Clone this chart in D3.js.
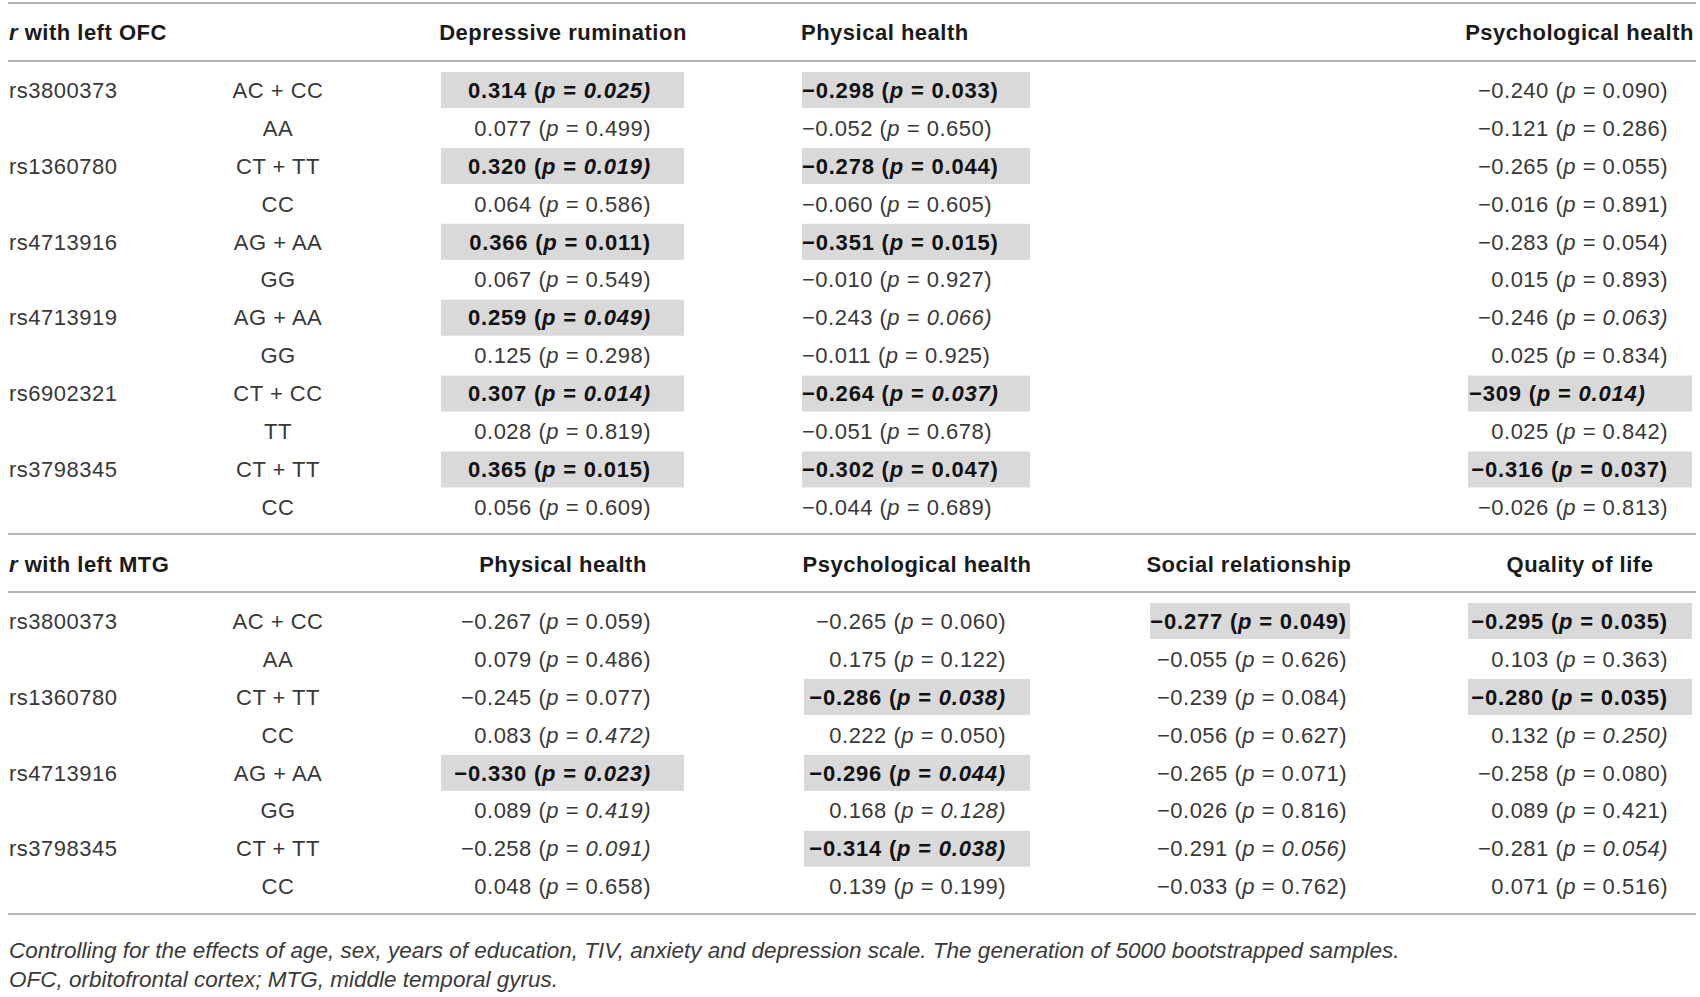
<!DOCTYPE html>
<html>
<head>
<meta charset="utf-8">
<script src="https://cdn.jsdelivr.net/npm/d3@7"></script>
<style>
  body { margin: 0; background: #fff; }
  svg { display: block; }
  text { font-family: "Liberation Sans", Arial, sans-serif; fill: #383838; }
  .hd { font-weight: bold; font-size: 22px; letter-spacing: 0.5px; fill: #1a1a1a; }
  .cell { font-size: 22px; letter-spacing: 0.5px; }
  .sig { font-weight: bold; fill: #111; letter-spacing: 0.8px; }
  .note { font-size: 22.5px; font-style: italic; fill: #3a3a3a; }
</style>
</head>
<body>
<svg width="1700" height="997"></svg>
<script>
// table data
const snpOFC = ['rs3800373', 'rs1360780', 'rs4713916', 'rs4713919', 'rs6902321', 'rs3798345'];
const genoOFC = ['AC + CC', 'AA', 'CT + TT', 'CC', 'AG + AA', 'GG', 'AG + AA', 'GG', 'CT + CC', 'TT', 'CT + TT', 'CC'];
const colsOFC = ['Depressive rumination', 'Physical health', 'Psychological health'];

const rRumination = [0.314, 0.077, 0.320, 0.064, 0.366, 0.067, 0.259, 0.125, 0.307, 0.028, 0.365, 0.056];
const pRumination = [0.025, 0.499, 0.019, 0.586, 0.011, 0.549, 0.049, 0.298, 0.014, 0.819, 0.015, 0.609];
const sigRumination = [1, 0, 1, 0, 1, 0, 1, 0, 1, 0, 1, 0];
const itRumination = [1, 0, 1, 0, 0, 0, 1, 0, 1, 0, 0, 0];

const rPhysOFC = [-0.298, -0.052, -0.278, -0.060, -0.351, -0.010, -0.243, -0.011, -0.264, -0.051, -0.302, -0.044];
const pPhysOFC = [0.033, 0.650, 0.044, 0.605, 0.015, 0.927, 0.066, 0.925, 0.037, 0.678, 0.047, 0.689];
const sigPhysOFC = [1, 0, 1, 0, 1, 0, 0, 0, 1, 0, 1, 0];
const itPhysOFC = [0, 0, 0, 0, 0, 0, 1, 0, 1, 0, 0, 0];

const rPsychOFC = [-0.240, -0.121, -0.265, -0.016, -0.283, 0.015, -0.246, 0.025, -309, 0.025, -0.316, -0.026];
const pPsychOFC = [0.090, 0.286, 0.055, 0.891, 0.054, 0.893, 0.063, 0.834, 0.014, 0.842, 0.037, 0.813];
const sigPsychOFC = [0, 0, 0, 0, 0, 0, 0, 0, 1, 0, 1, 0];
const itPsychOFC = [0, 0, 0, 0, 0, 0, 1, 0, 1, 0, 0, 0];

const snpMTG = ['rs3800373', 'rs1360780', 'rs4713916', 'rs3798345'];
const genoMTG = ['AC + CC', 'AA', 'CT + TT', 'CC', 'AG + AA', 'GG', 'CT + TT', 'CC'];
const colsMTG = ['Physical health', 'Psychological health', 'Social relationship', 'Quality of life'];

const rPhysMTG = [-0.267, 0.079, -0.245, 0.083, -0.330, 0.089, -0.258, 0.048];
const pPhysMTG = [0.059, 0.486, 0.077, 0.472, 0.023, 0.419, 0.091, 0.658];
const sigPhysMTG = [0, 0, 0, 0, 1, 0, 0, 0];
const itPhysMTG = [0, 0, 0, 1, 1, 1, 1, 0];

const rPsychMTG = [-0.265, 0.175, -0.286, 0.222, -0.296, 0.168, -0.314, 0.139];
const pPsychMTG = [0.060, 0.122, 0.038, 0.050, 0.044, 0.128, 0.038, 0.199];
const sigPsychMTG = [0, 0, 1, 0, 1, 0, 1, 0];
const itPsychMTG = [0, 0, 1, 0, 1, 1, 1, 0];

const rSocial = [-0.277, -0.055, -0.239, -0.056, -0.265, -0.026, -0.291, -0.033];
const pSocial = [0.049, 0.626, 0.084, 0.627, 0.071, 0.816, 0.056, 0.762];
const sigSocial = [1, 0, 0, 0, 0, 0, 0, 0];
const itSocial = [0, 0, 0, 0, 0, 0, 1, 0];

const rQoL = [-0.295, 0.103, -0.280, 0.132, -0.258, 0.089, -0.281, 0.071];
const pQoL = [0.035, 0.363, 0.035, 0.250, 0.080, 0.421, 0.054, 0.516];
const sigQoL = [1, 0, 1, 0, 0, 0, 0, 0];
const itQoL = [0, 0, 0, 1, 0, 0, 1, 0];

const notes = [
  'Controlling for the effects of age, sex, years of education, TIV, anxiety and depression scale. The generation of 5000 bootstrapped samples.',
  'OFC, orbitofrontal cortex; MTG, middle temporal gyrus.'
];

let svg = d3.select('svg');
const f3 = d3.format('.3f');
const fr = v => Math.abs(v) >= 1 ? d3.format('d')(v) : f3(v);

const rowH = 37.95, boxH = 36;
const yOFC = d3.scaleLinear().domain([0, 1]).range([90, 90 + rowH]);
const yMTG = d3.scaleLinear().domain([0, 1]).range([621, 621 + rowH]);

function rule(y) {
  svg.append('line')
    .attr('x1', 8).attr('x2', 1696)
    .attr('y1', y).attr('y2', y)
    .attr('stroke', '#b4b4b4').attr('stroke-width', 2);
}

function header(txt, x, y, anchor) {
  let t = svg.append('text').attr('class', 'hd')
    .attr('x', x).attr('y', y).attr('dy', '0.35em')
    .attr('text-anchor', anchor);
  if (txt.startsWith('r ')) {
    t.append('tspan').attr('font-style', 'italic').text('r');
    t.append('tspan').text(txt.slice(1));
  } else t.text(txt);
}

// one column of "r (p = x)" cells
function column(y, r, p, sig, it, pos) {
  let g = svg.append('g');
  let rows = g.selectAll('g').data(r.map((v, i) => ({ r: v, p: p[i], sig: sig[i], it: it[i], i: i })))
    .enter().append('g');
  rows.filter(d => d.sig).append('rect')
    .attr('x', pos.box[0]).attr('width', pos.box[1] - pos.box[0])
    .attr('y', d => y(d.i) - boxH / 2).attr('height', boxH)
    .attr('fill', '#d9d9d9');
  // the one short value in the reference sits flush left in its box
  const left = d => (pos.leftRows || []).includes(d.i);
  let t = rows.append('text')
    .attr('class', d => d.sig ? 'cell sig' : 'cell')
    .attr('x', d => left(d) ? pos.box[0] + 1 : pos.x).attr('y', d => y(d.i)).attr('dy', '0.35em')
    .attr('text-anchor', d => left(d) ? 'start' : pos.anchor);
  t.append('tspan').text(d => fr(d.r) + ' (');
  t.append('tspan').attr('font-style', 'italic').text('p');
  t.append('tspan').text(' = ');
  t.append('tspan').attr('font-style', d => d.it ? 'italic' : null).text(d => f3(d.p) + ')');
}

function labels(y, snps, genos) {
  svg.append('g').selectAll('text').data(snps).enter().append('text')
    .attr('class', 'cell').attr('x', 9).attr('y', (d, i) => y(i * 2)).attr('dy', '0.35em')
    .text(d => d);
  svg.append('g').selectAll('text').data(genos).enter().append('text')
    .attr('class', 'cell').attr('x', 278).attr('y', (d, i) => y(i)).attr('dy', '0.35em')
    .attr('text-anchor', 'middle')
    .text(d => d);
}

// top block: left OFC
rule(3);
header('r with left OFC', 9, 32, 'start');
header(colsOFC[0], 563, 32, 'middle');
header(colsOFC[1], 801, 32, 'start');
header(colsOFC[2], 1694, 32, 'end');
rule(61);
labels(yOFC, snpOFC, genoOFC);
column(yOFC, rRumination, pRumination, sigRumination, itRumination, { x: 651, anchor: 'end', box: [441, 684] });
column(yOFC, rPhysOFC, pPhysOFC, sigPhysOFC, itPhysOFC, { x: 802, anchor: 'start', box: [802, 1030] });
column(yOFC, rPsychOFC, pPsychOFC, sigPsychOFC, itPsychOFC, { x: 1668, anchor: 'end', box: [1468, 1692], leftRows: [8] });

// bottom block: left MTG
rule(534);
header('r with left MTG', 9, 564, 'start');
header(colsMTG[0], 563, 564, 'middle');
header(colsMTG[1], 917, 564, 'middle');
header(colsMTG[2], 1249, 564, 'middle');
header(colsMTG[3], 1580, 564, 'middle');
rule(592);
labels(yMTG, snpMTG, genoMTG);
column(yMTG, rPhysMTG, pPhysMTG, sigPhysMTG, itPhysMTG, { x: 651, anchor: 'end', box: [441, 684] });
column(yMTG, rPsychMTG, pPsychMTG, sigPsychMTG, itPsychMTG, { x: 1006, anchor: 'end', box: [804, 1030] });
column(yMTG, rSocial, pSocial, sigSocial, itSocial, { x: 1347, anchor: 'end', box: [1150, 1350] });
column(yMTG, rQoL, pQoL, sigQoL, itQoL, { x: 1668, anchor: 'end', box: [1468, 1692] });
rule(914);

svg.append('g').selectAll('text').data(notes).enter().append('text')
  .attr('class', 'note').attr('x', 9).attr('y', (d, i) => 950 + i * 29).attr('dy', '0.35em')
  .text(d => d);
</script>
</body>
</html>
